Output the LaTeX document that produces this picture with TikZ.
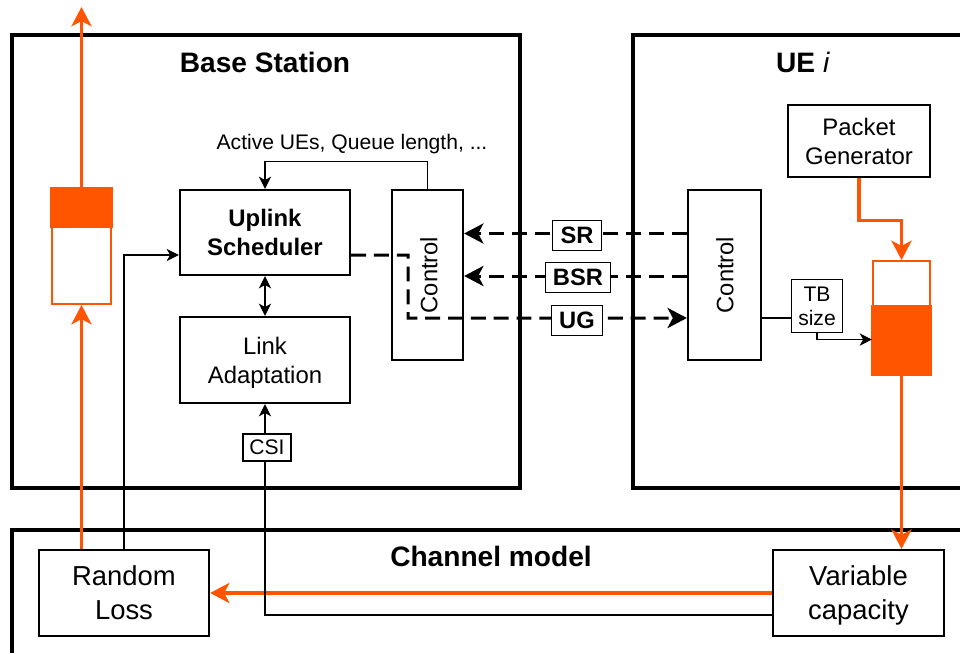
\documentclass[tikz,border=0pt]{standalone}
\usepackage{fontspec}
\setmainfont{Liberation Sans}
\usetikzlibrary{arrows.meta,calc}
\definecolor{org}{HTML}{FF5500}
\begin{document}
\begin{tikzpicture}[x=0.02cm,y=-0.02cm,
  frame/.style={draw, line width=1.9pt},
  blk/.style={draw, line width=1.3pt, inner sep=0pt, align=center, font=\fontsize{13.6}{16.4}\selectfont, text depth=-1pt},
  blkb/.style={blk, font=\bfseries\fontsize{13.6}{16.4}\selectfont},
  blkl/.style={blk, font=\fontsize{15.6}{19.4}\selectfont, text depth=-5pt},
  lbl/.style={draw, line width=0.6pt, fill=white, inner sep=0pt, align=center},
  lblb/.style={lbl, font=\bfseries\fontsize{13.5}{16}\selectfont},
  thinline/.style={line width=0.6pt},
  thinarr/.style={thinline, -{Stealth[length=7pt,width=7pt,inset=2pt]}},
  dashline/.style={line width=1.7pt, dash pattern=on 8.5pt off 4.5pt},
  bigtip/.style={-{Stealth[length=11pt,width=11.5pt,inset=3pt]}},
  orangeline/.style={draw=org, line width=1.8pt},
  queue/.style={draw=org, line width=1.2pt, fill=white, inner sep=0pt},
  title/.style={font=\bfseries\fontsize{16}{19}\selectfont},
  rottext/.style={rotate=90, font=\fontsize{13.5}{16}\selectfont}
]
\useasboundingbox (0,0) rectangle (960,653);

% frames
\node[frame, minimum width=10.16cm, minimum height=9.06cm] (bs) at (266,261.5) {};
\draw[frame] (960,35) -- (633,35) -- (633,488) -- (960,488);
\draw[frame] (960,530) -- (12,530) -- (12,653);

% titles
\node[title] (bst) at (265,62) {Base Station};
\node[title] (uet) at (803,62) {UE \textmd{\textit{i}}};
\node[title] (cht) at (491,556) {Channel model};

% blocks
\node[blkb, minimum width=3.4cm, minimum height=1.7cm] (sched) at (265,232.5) {Uplink\\Scheduler};
\node[blk, minimum width=3.4cm, minimum height=1.72cm, text depth=-3pt] (la) at (265,360) {Link\\Adaptation};
\node[blk, minimum width=1.42cm, minimum height=3.4cm] (bsctl) at (427.5,275) {};
\node[rottext] (bsctltxt) at (429,275) {Control};
\node[blk, minimum width=1.46cm, minimum height=3.4cm] (uectl) at (724.5,275) {};
\node[rottext] (uectltxt) at (725,275) {Control};
\node[blk, minimum width=2.84cm, minimum height=1.44cm] (pg) at (859,141) {Packet\\Generator};
\node[blkl, minimum width=3.42cm, minimum height=1.72cm] (vc) at (858.5,593) {Variable\\capacity};
\node[blkl, minimum width=3.4cm, minimum height=1.72cm] (rl) at (124,593) {Random\\Loss};

% queues
\node[queue, minimum width=1.18cm, minimum height=2.3cm] (bsq) at (81.5,246.5) {};
\fill[org] ($(bsq.north west)+(-0.6,-0.6)$) rectangle ($(bsq.north east)+(0.6,40)$);
\node[queue, minimum width=1.14cm, minimum height=2.26cm] (ueq) at (901.5,317.5) {};
\fill[org] ($(ueq.south west)+(-0.6,0.6)$) rectangle ($(ueq.south east)+(0.6,-70)$);

% orange flows
\coordinate (bsout) at (81.5,7);
\draw[orangeline, bigtip] (bsq.north) -- (bsout);
\draw[orangeline, bigtip] (rl.north -| bsq.south) -- (bsq.south);
\draw[orangeline, bigtip] (pg.south) -- ++(0,42) -| (ueq.north);
\draw[orangeline, bigtip] (ueq.south) -- (vc.north -| ueq.south);
\draw[orangeline, bigtip] (vc.west) -- (rl.east);

% thin connectors
\draw[thinarr] ($(vc.west)+(0,22)$) -| (la.south);
\node[lbl, font=\fontsize{12}{14}\selectfont, minimum width=0.96cm, minimum height=0.54cm] (csi) at (267,447.5) {CSI};
\draw[thinarr] (rl.north) |- ($(sched.west)+(0,22.5)$);
\draw[thinarr] (bsctl.north) -- ++(0,-27.5) -| (sched.north);
\node[font=\fontsize{12}{14}\selectfont] (aue) at (352,144) {Active UEs, Queue length, ...};
\draw[thinline, line width=0.8pt, {Stealth[length=7pt,width=7pt,inset=2pt]}-{Stealth[length=7pt,width=7pt,inset=2pt]}] (sched.south) -- (la.north);

% dashed signalling
\draw[dashline, bigtip] ($(uectl.west)+(0,-41.5)$) -- ($(bsctl.east)+(0,-41.5)$);
\draw[dashline, bigtip] ($(uectl.west)+(0,1)$) -- ($(bsctl.east)+(0,1)$);
\draw[dashline, bigtip] ($(sched.east)+(0,22.5)$) -- ++(57,0) -- ++(0,63) -- ($(uectl.west)+(0,43)$);
\node[lblb, minimum width=0.97cm, minimum height=0.6cm] (sr) at (577,235.5) {SR};
\node[lblb, minimum width=1.3cm, minimum height=0.6cm] (bsr) at (578,277.5) {BSR};
\node[lblb, minimum width=1.03cm, minimum height=0.6cm] (ug) at (577,320.5) {UG};

% TB size
\node[lbl, font=\fontsize{12}{13.6}\selectfont, minimum width=1.02cm, minimum height=1.06cm] (tb) at (817,306) {TB\\size};
\draw[thinline] ($(uectl.east)+(0,43)$) -- ($(tb.west)+(0,12)$);
\draw[thinarr] (tb.south) |- ($(ueq.west)+(0,22)$);
\end{tikzpicture}
\end{document}
